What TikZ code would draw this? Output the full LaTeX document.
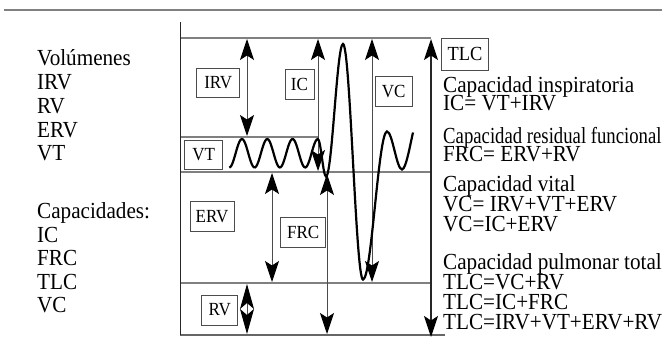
\documentclass[tikz,border=0pt]{standalone}
\usepackage{fontspec}
\setmainfont{Liberation Serif}[FakeStretch=0.92]
\usetikzlibrary{arrows.meta}
\newcommand\txtstack[2]{\vtop{\baselineskip=#1\lineskiplimit=-100pt\relax #2}}
\begin{document}
\begin{tikzpicture}[x=1pt,y=-1pt,
  hline/.style={draw=black!50, line width=1.3pt},
  axisline/.style={draw=black!85, line width=1pt},
  dim/.style={draw=black!70, line width=0.9pt, {Stealth[length=21pt,width=14pt,inset=4.5pt,color=black]}-{Stealth[length=21pt,width=14pt,inset=4.5pt,color=black]}},
  dimrv/.style={draw=black!70, line width=0.9pt, {Stealth[length=25pt,width=14pt,inset=6pt,color=black]}-{Stealth[length=25pt,width=14pt,inset=6pt,color=black]}},
  dimtlc/.style={draw=black!85, line width=1.4pt, {Stealth[length=21pt,width=14pt,inset=4.5pt,color=black]}-{Stealth[length=21pt,width=14pt,inset=4.5pt,color=black]}},
  wave/.style={draw=black, line width=2.2pt},
  lbl/.style={draw=black!70, line width=0.7pt, fill=white, inner sep=0pt, minimum height=29pt, font=\fontsize{18.5}{19}\selectfont},
  txt/.style={anchor=base west, inner sep=0pt, font=\fontsize{23}{24}\selectfont}]
\useasboundingbox (0,0) rectangle (662,344);
% top rule
\coordinate (topL) at (4,10); \coordinate (topR) at (662,10);
\draw[draw=black!50, line width=1.6pt] (topL) -- (topR);
% axis and level lines
\coordinate (axT) at (180,22); \coordinate (axB) at (180,335);
\coordinate (tlcL) at (180,38); \coordinate (tlcR) at (431,38);
\coordinate (vtL) at (180,137); \coordinate (vtR) at (318,137);
\coordinate (frcL) at (180,172); \coordinate (frcR) at (431,172);
\coordinate (rvL) at (180,283); \coordinate (rvR) at (431,283);
\coordinate (botL) at (180,335); \coordinate (botR) at (445,335);
\draw[hline] (tlcL) -- (tlcR);
\draw[hline] (vtL) -- (vtR);
\draw[hline] (frcL) -- (frcR);
\draw[hline] (rvL) -- (rvR);
\draw[draw=black!60, line width=1.4pt] (botL) -- (botR);
\draw[axisline] (axT) -- (axB);
% dimension arrows
\coordinate (irvT) at (247,39); \coordinate (irvB) at (247,136);
\coordinate (icT) at (318,39); \coordinate (icB) at (318,171);
\coordinate (vcT) at (372,39); \coordinate (vcB) at (372,282);
\coordinate (tlcT) at (431,39); \coordinate (tlcB) at (431,337);
\coordinate (erT) at (272,173); \coordinate (erB) at (272,282);
\coordinate (frT) at (327,174); \coordinate (frB) at (327,334);
\coordinate (rvT) at (247,284); \coordinate (rvB) at (247,334);
\draw[dim] (irvT) -- (irvB);
\draw[dim] (icT) -- (icB);
\draw[dim] (vcT) -- (vcB);
\draw[dimtlc] (tlcT) -- (tlcB);
\draw[dim] (erT) -- (erB);
\draw[dim] (frT) -- (frB);
\draw[dimrv] (rvT) -- (rvB);
% spirogram
\draw[wave] plot[domain=0:3.5, samples=80, smooth, variable=\t] ({229.3+25.3*\t},{153.25+14.25*cos(360*\t)})
  .. controls (320.8,139) and (323.1,176.5) .. (326,176.5)
  .. controls (332.1,176.5) and (336.9,44) .. (343,44)
  .. controls (350.2,44) and (355.8,279.5) .. (363,279.5)
  .. controls (371.6,279.5) and (378.4,131.5) .. (387,131.5)
  .. controls (392.4,131.5) and (396.6,169.5) .. (402,169.5)
  .. controls (406,169.5) and (410.5,143) .. (413,132.5);
% boxed labels
\node[lbl, minimum width=43pt] (bIRV) at (218.3,82.5) {IRV};
\node[lbl, minimum width=29pt, minimum height=30pt] (bIC) at (299.5,84) {IC};
\node[lbl, minimum width=37pt, minimum height=30pt] (bVC) at (393.7,91.7) {VC};
\node[lbl, minimum width=38pt] (bVT) at (203.8,154.7) {VT};
\node[lbl, minimum width=44pt, minimum height=30pt] (bERV) at (212,216.7) {ERV};
\node[lbl, minimum width=45pt, minimum height=30pt] (bFRC) at (303.2,232.3) {FRC};
\node[lbl, minimum width=36pt, minimum height=30pt] (bRV) at (219.7,310) {RV};
\node[lbl, minimum width=47pt, minimum height=32pt, font=\fontsize{20}{21}\selectfont] (bTLC) at (465,54) {TLC};
% left column
\node[txt] (vol) at (37,66) {\txtstack{23.75pt}{\hbox{Volúmenes}\hbox{IRV}\hbox{RV}\hbox{ERV}\hbox{VT}}};
\node[txt] (cap) at (37,219) {\txtstack{23.5pt}{\hbox{Capacidades:}\hbox{IC}\hbox{FRC}\hbox{TLC}\hbox{VC}}};
% right column
\node[txt] (gIC) at (443,93) {\txtstack{18pt}{\hbox{Capacidad inspiratoria}\hbox{IC= VT+IRV}}};
\node[txt] (gFRC) at (443,144) {\txtstack{18pt}{\hbox{\scalebox{0.885}[1]{Capacidad residual funcional}}\hbox{FRC= ERV+RV}}};
\node[txt] (gVC) at (443,192) {\txtstack{20pt}{\hbox{Capacidad vital}\hbox{VC= IRV+VT+ERV}\hbox{VC=IC+ERV}}};
\node[txt] (gTLC) at (443,270) {\txtstack{19.7pt}{\hbox{Capacidad pulmonar total}\hbox{TLC=VC+RV}\hbox{TLC=IC+FRC}\hbox{TLC=IRV+VT+ERV+RV}}};
\end{tikzpicture}
\end{document}
